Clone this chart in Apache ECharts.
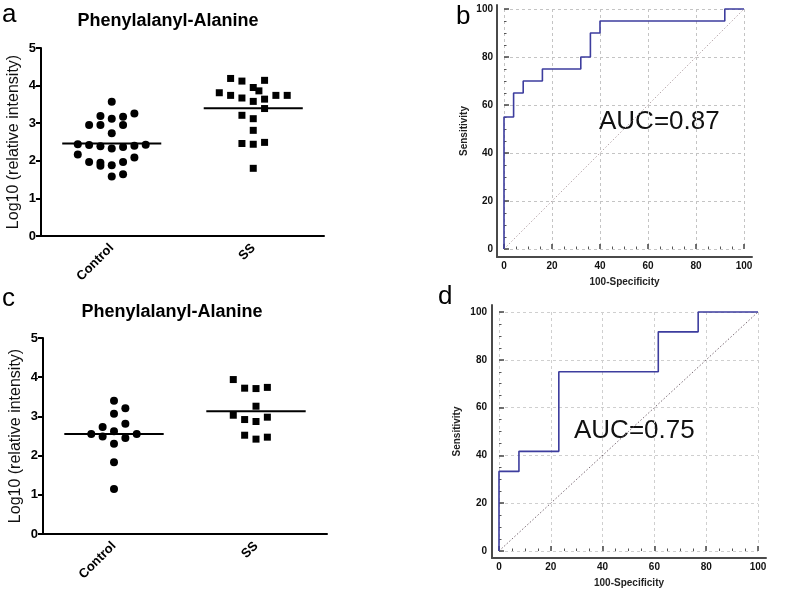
<!DOCTYPE html>
<html><head><meta charset="utf-8">
<script src="https://cdn.jsdelivr.net/npm/echarts@6/dist/echarts.min.js"></script>
<style>html,body{margin:0;padding:0;background:#fff}#c{width:786px;height:604px}</style>
</head><body><div id="c"></div>
<script>
// ---------- data ----------
const groups = ['Control', 'SS'];
const titleText = 'Phenylalanyl-Alanine';
const yName = 'Log10 (relative intensity)';

// panel a
const aControlVals = [3.57,3.19,3.12,3.17,3.26,2.95,2.95,2.95,2.73,2.44,2.42,2.39,2.33,2.37,2.40,2.43,2.17,1.97,1.95,1.87,1.88,1.97,2.09,1.58,1.64];
const aControlJit  = [0,-0.08,0,0.08,0.16,-0.16,-0.08,0.08,0,-0.24,-0.16,-0.08,0,0.08,0.16,0.24,-0.24,-0.16,-0.08,-0.08,0,0.08,0.16,0,0.08];
const aSSVals = [4.19,4.12,4.14,3.95,3.86,3.81,3.74,3.67,3.58,3.64,3.74,3.74,3.39,3.21,3.12,2.81,2.46,2.44,2.49,1.80];
const aSSJit  = [-0.16,-0.08,0.08,0,0.04,-0.24,-0.16,-0.08,0,0.08,0.16,0.24,0.08,-0.08,0,0,-0.08,0,0.08,0];
const aMedians = [2.46, 3.40];

// panel c
const cControlVals = [3.40,3.07,3.21,2.73,2.81,2.55,2.62,2.49,2.45,2.55,2.30,1.83,1.15];
const cControlJit  = [0,0,0.08,-0.08,0.08,-0.16,0,-0.08,0.08,0.16,0,0,0];
const cSSVals = [3.94,3.72,3.71,3.74,3.26,3.03,2.92,2.87,2.98,2.52,2.42,2.47];
const cSSJit  = [-0.16,-0.08,0,0.08,0,-0.16,-0.08,0,0.08,-0.08,0,0.08];
const cMedians = [2.55, 3.13];

// panel b ROC
const bFPR = [0,0,4,4,8,8,16,16,32,32,36,36,40,40,92,92,100];
const bTPR = [0,55,55,65,65,70,70,75,75,80,80,90,90,95,95,100,100];
const bAUC = 'AUC=0.87';
// panel d ROC
const dFPR = [0,0,7.7,7.7,23.1,23.1,61.5,61.5,76.9,76.9,100];
const dTPR = [0,33.3,33.3,41.7,41.7,75,75,91.7,91.7,100,100];
const dAUC = 'AUC=0.75';
const diagonal = [0, 100];
const rocXName = '100-Specificity';
const rocYName = 'Sensitivity';
const panelLetters = ['a','b','c','d'];

// ---------- styles ----------
const FONT = 'Liberation Sans, Arial, sans-serif';
const medianHalf = 0.35;

function dotAxisX(grid) {
  return [{
    type: 'category', gridIndex: grid, data: groups, boundaryGap: true,
    axisLine: {lineStyle: {color: '#000', width: 2}},
    axisTick: {alignWithLabel: true, length: 5, lineStyle: {color: '#000', width: 2}},
    axisLabel: {rotate: 45, margin: 10, color: '#000', fontWeight: 'bold', fontSize: 13, fontFamily: FONT},
    splitLine: {show: false}
  }, {
    type: 'value', gridIndex: grid, min: 0.5, max: 2.5, show: false
  }];
}
function dotAxisY(grid) {
  return {
    type: 'value', gridIndex: grid, min: 0, max: 5, interval: 1,
    name: yName, nameLocation: 'middle', nameGap: 19,
    nameTextStyle: {color: '#111', fontSize: 16, fontFamily: FONT},
    axisLine: {show: true, lineStyle: {color: '#000', width: 2}},
    axisTick: {show: true, length: 5, lineStyle: {color: '#000', width: 2}},
    axisLabel: {margin: 5, color: '#000', fontWeight: 'bold', fontSize: 13, fontFamily: FONT},
    splitLine: {show: false}
  };
}
function rocAxis(grid, offset, splitColor) {
  return {
    type: 'value', gridIndex: grid, min: 0, max: 100, interval: 20, offset: offset,
    axisLine: {show: false},
    axisTick: {show: true, inside: true, length: 5, lineStyle: {color: '#444', width: 1.5}},
    minorTick: {show: true, splitNumber: 4, length: 2.5, lineStyle: {color: '#555', width: 1}},
    axisLabel: {margin: 4, color: '#111', fontWeight: 'bold', fontSize: 10, fontFamily: FONT},
    splitLine: {show: true, lineStyle: {color: splitColor, type: [3, 3], width: 1}}
  };
}
function frameAxis(grid, name, gap) {
  return {
    type: 'value', gridIndex: grid, min: 0, max: 1,
    name: name, nameLocation: 'middle', nameGap: gap,
    nameTextStyle: {color: '#222', fontWeight: 'bold', fontSize: 10, fontFamily: FONT},
    axisLine: {show: true, lineStyle: {color: '#4a4a4a', width: 2}},
    axisTick: {show: false}, axisLabel: {show: false}, splitLine: {show: false}
  };
}

function scatter(xi, yi, vals, jit, center, symbol, size) {
  return {
    type: 'scatter', xAxisIndex: xi, yAxisIndex: yi, symbol: symbol, symbolSize: size,
    itemStyle: {color: '#000', opacity: 1}, silent: true,
    data: vals.map((v, i) => [center + jit[i], v])
  };
}
function median(xi, yi, m, center) {
  return {
    type: 'line', xAxisIndex: xi, yAxisIndex: yi, symbol: 'none', silent: true,
    lineStyle: {color: '#000', width: 2},
    data: [[center - medianHalf, m], [center + medianHalf, m]]
  };
}
function roc(xi, yi, fpr, tpr) {
  return {
    type: 'line', xAxisIndex: xi, yAxisIndex: yi, symbol: 'none', clip: false, silent: true,
    lineStyle: {color: '#3d3d9e', width: 1.6},
    data: fpr.map((f, i) => [f, tpr[i]]), z: 5
  };
}
function diag(xi, yi, color) {
  return {
    type: 'line', xAxisIndex: xi, yAxisIndex: yi, symbol: 'none', silent: true,
    lineStyle: {color: color, width: 1, type: [1.5, 2]},
    data: [[diagonal[0], diagonal[0]], [diagonal[1], diagonal[1]]]
  };
}

const chart = echarts.init(document.getElementById('c'), null, {renderer: 'canvas'});
chart.setOption({
  backgroundColor: '#fff',
  animation: false,
  title: [
    {text: titleText, left: 163, top: 7, textAlign: 'center',
     textStyle: {fontSize: 18, fontWeight: 'bold', color: '#000', fontFamily: FONT}},
    {text: titleText, left: 167, top: 298, textAlign: 'center',
     textStyle: {fontSize: 18, fontWeight: 'bold', color: '#000', fontFamily: FONT}}
  ],
  grid: [
    {left: 41, top: 48, width: 283, height: 188},
    {left: 43, top: 338, width: 284, height: 196},
    {left: 504, top: 9, width: 240, height: 240},
    {left: 497, top: 5, width: 255, height: 252},
    {left: 499, top: 312, width: 259, height: 239},
    {left: 492, top: 305, width: 274, height: 253}
  ],
  xAxis: [
    ...dotAxisX(0),
    ...dotAxisX(1),
    rocAxis(2, 8, '#c4c4c4'),
    frameAxis(3, rocXName, 20),
    rocAxis(4, 7, '#cfcfcf'),
    frameAxis(5, rocXName, 20)
  ],
  yAxis: [
    dotAxisY(0),
    dotAxisY(1),
    rocAxis(2, 7, '#c4c4c4'),
    frameAxis(3, rocYName, 28),
    rocAxis(4, 8, '#cfcfcf'),
    frameAxis(5, rocYName, 30)
  ],
  graphic: [
    {type: 'text', left: 2, top: 2, style: {text: panelLetters[0], fontSize: 26, fill: '#000', fontFamily: FONT}},
    {type: 'text', left: 456, top: 4, style: {text: panelLetters[1], fontSize: 26, fill: '#000', fontFamily: FONT}},
    {type: 'text', left: 2, top: 286, style: {text: panelLetters[2], fontSize: 26, fill: '#000', fontFamily: FONT}},
    {type: 'text', left: 438, top: 284, style: {text: panelLetters[3], fontSize: 26, fill: '#000', fontFamily: FONT}},
    {type: 'text', left: 599, top: 109, style: {text: bAUC, fontSize: 26, fill: '#111', fontFamily: FONT}},
    {type: 'text', left: 574, top: 418, style: {text: dAUC, fontSize: 26, fill: '#111', fontFamily: FONT}}
  ],
  series: [
    scatter(1, 0, aControlVals, aControlJit, 1, 'circle', 8),
    scatter(1, 0, aSSVals, aSSJit, 2, 'rect', 7),
    median(1, 0, aMedians[0], 1),
    median(1, 0, aMedians[1], 2),
    scatter(3, 1, cControlVals, cControlJit, 1, 'circle', 8),
    scatter(3, 1, cSSVals, cSSJit, 2, 'rect', 7),
    median(3, 1, cMedians[0], 1),
    median(3, 1, cMedians[1], 2),
    diag(4, 2, '#b8a8ac'),
    roc(4, 2, bFPR, bTPR),
    diag(6, 4, '#7a6a74'),
    roc(6, 4, dFPR, dTPR)
  ]
});
</script></body></html>
